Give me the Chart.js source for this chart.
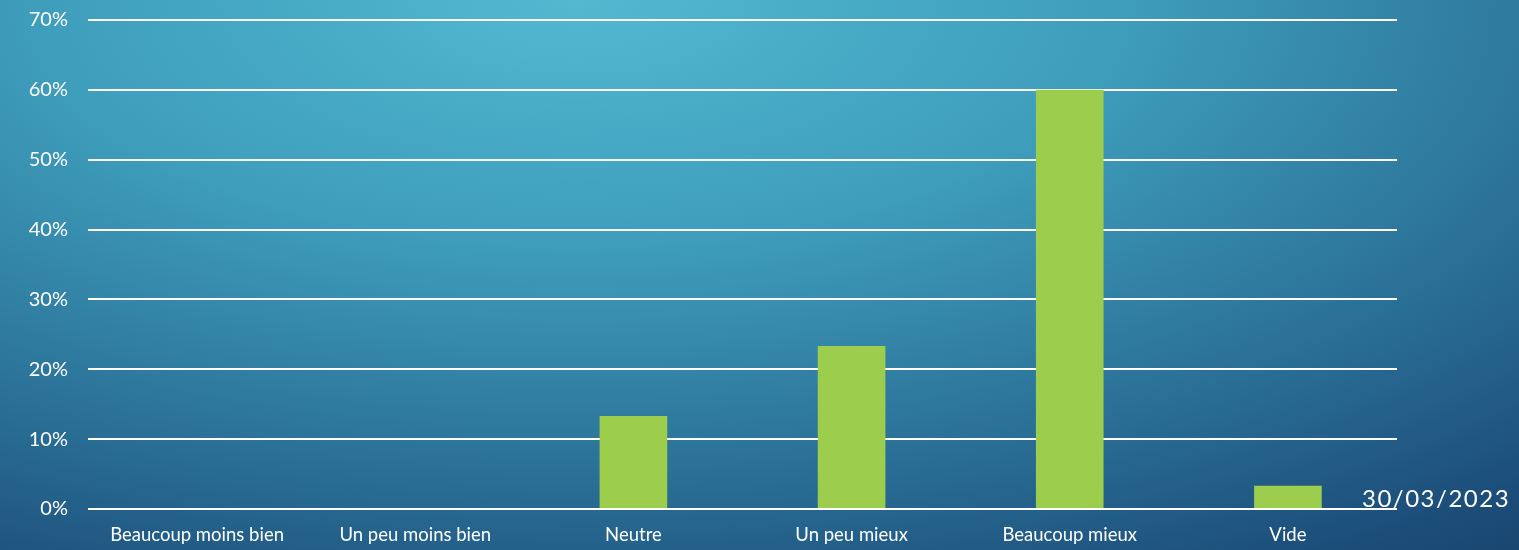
<!DOCTYPE html>
<html><head><meta charset="utf-8">
<script src="https://cdn.jsdelivr.net/npm/chart.js@4/dist/chart.umd.min.js"></script>
<style>
html,body{margin:0;padding:0;width:1519px;height:550px;overflow:hidden;}
body{background:radial-gradient(ellipse 120% 150% at 38% 0%, #52b9d1 0%, #3e9dbb 30%, #2a6f96 58%, #1c4e7a 78%, #14345d 100%);position:relative;font-family:"Lato","Open Sans",sans-serif;}
#wrap{position:absolute;left:0;top:0;width:1519px;height:550px;}
#date{position:absolute;left:1362px;top:483px;color:#fff;font-size:24px;font-family:"Lato",sans-serif;letter-spacing:1.5px;}
</style></head>
<body>
<div id="wrap"><canvas id="c" width="1519" height="550"></canvas></div>
<div id="date">30/03/2023</div>
<script>
const categories = ["Beaucoup moins bien","Un peu moins bien","Neutre","Un peu mieux","Beaucoup mieux","Vide"];
const values = [0, 0, 13.33, 23.33, 60, 3.33];
const yTicks = [0,10,20,30,40,50,60,70];

new Chart(document.getElementById('c'), {
  type: 'bar',
  data: { labels: categories, datasets: [{ data: values, backgroundColor: '#9ccd4c', borderWidth: 0, categoryPercentage: 1, barPercentage: 0.31 }] },
  options: {
    responsive: false, animation: false,
    layout: { padding: { top: 20, right: 122, left: 0, bottom: 0 } },
    plugins: { legend: { display: false }, tooltip: { enabled: false } },
    scales: {
      x: {
        grid: { display: false, drawTicks: false }, border: { display: false },
        ticks: { color: '#fff', font: { family: 'Lato', size: 18.5 }, padding: 15, maxRotation: 0 },
        afterFit: s => { s.height = 41; s.paddingLeft = 0; s.paddingRight = 0; }
      },
      y: {
        min: 0, max: 70,
        grid: { color: '#ffffff', lineWidth: 2, drawTicks: false }, border: { display: false },
        afterBuildTicks: s => { s.ticks = yTicks.map(v => ({ value: v })); },
        ticks: { color: '#fff', font: { family: 'Lato', size: 20 }, padding: 20, callback: v => v + '%' },
        afterFit: s => { s.width = 88; s.paddingTop = 0; s.paddingBottom = 0; }
      }
    }
  }
});
</script>
</body></html>
